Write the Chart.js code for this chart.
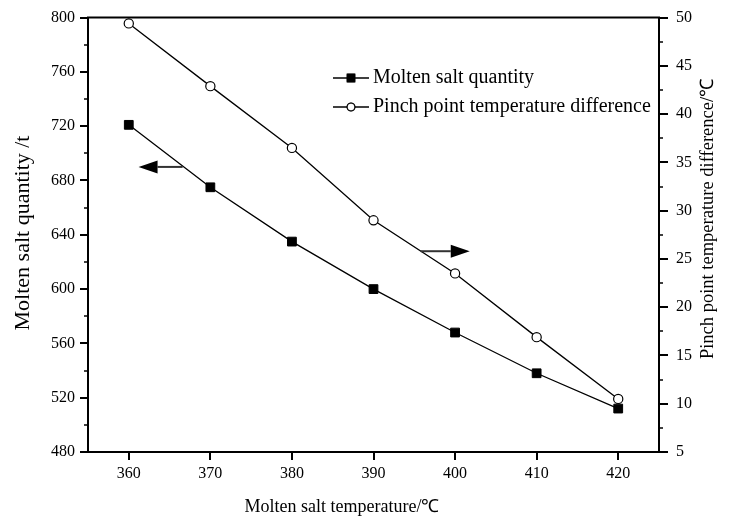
<!DOCTYPE html>
<html>
<head>
<meta charset="utf-8">
<script src="https://cdn.jsdelivr.net/npm/chart.js@4"></script>
<style>
  html, body { margin: 0; padding: 0; background: #fff; }
</style>
</head>
<body>
<canvas id="chart" width="731" height="524"></canvas>
<script>
// 데이터
const temperature = [360, 370, 380, 390, 400, 410, 420];
const saltQuantity = [721, 675, 635, 600, 568, 538, 512];
const pinchDiff = [49.4, 42.9, 36.5, 29.0, 23.5, 16.9, 10.5];

const xTicks = [360, 370, 380, 390, 400, 410, 420];
const leftTicks = [480, 520, 560, 600, 640, 680, 720, 760, 800];
const rightTicks = [5, 10, 15, 20, 25, 30, 35, 40, 45, 50];

const seriesNames = ['Molten salt quantity', 'Pinch point temperature difference'];
const xTitle = 'Molten salt temperature/\u2103';
const leftTitle = 'Molten salt quantity /t';
const rightTitle = 'Pinch point temperature difference/\u2103';

// 화살표 (축 방향 표시) - 데이터 좌표
const arrowLeft = { from: 366.6, to: 361.2, y: 690 };
const arrowRight = { from: 395.8, to: 401.8, y: 25.8 };

const FONT = "'Liberation Serif', 'Times New Roman', serif";

// 보조 눈금, 축 제목, 범례, 화살표 그리기
const decorPlugin = {
    id: 'decor',
    afterDraw(chart) {
        const ctx = chart.ctx;
        const area = chart.chartArea;
        const sx = chart.scales.x;
        const yl = chart.scales.yL;
        const yr = chart.scales.yR;

        ctx.save();
        ctx.strokeStyle = '#000';
        ctx.lineWidth = 2;

        // 위쪽 테두리
        ctx.beginPath();
        ctx.moveTo(area.left - 1, area.top);
        ctx.lineTo(area.right + 1, area.top);
        ctx.stroke();

        // 보조 눈금
        ctx.lineWidth = 1.5;
        for (let i = 0; i < leftTicks.length - 1; i++) {
            const y = Math.round(yl.getPixelForValue((leftTicks[i] + leftTicks[i + 1]) / 2));
            ctx.beginPath();
            ctx.moveTo(area.left - 4, y);
            ctx.lineTo(area.left, y);
            ctx.stroke();
        }
        for (let i = 0; i < rightTicks.length - 1; i++) {
            const y = Math.round(yr.getPixelForValue((rightTicks[i] + rightTicks[i + 1]) / 2));
            ctx.beginPath();
            ctx.moveTo(area.right, y);
            ctx.lineTo(area.right + 4, y);
            ctx.stroke();
        }

        // 축 제목
        ctx.fillStyle = '#000';
        ctx.textAlign = 'center';
        ctx.textBaseline = 'middle';
        ctx.font = '18px ' + FONT;
        ctx.fillText(xTitle, 342, 507);

        ctx.save();
        ctx.translate(23, 233);
        ctx.rotate(-Math.PI / 2);
        ctx.font = '22px ' + FONT;
        ctx.fillText(leftTitle, 0, 0);
        ctx.restore();

        ctx.save();
        ctx.translate(708, 219);
        ctx.rotate(-Math.PI / 2);
        ctx.font = '18.5px ' + FONT;
        ctx.fillText(rightTitle, 0, 0);
        ctx.restore();

        // 화살표
        function arrow(a, scaleY) {
            const x1 = sx.getPixelForValue(a.from);
            const x2 = sx.getPixelForValue(a.to);
            const y = scaleY.getPixelForValue(a.y);
            const dir = Math.sign(x2 - x1);
            const headLen = 19;
            ctx.strokeStyle = '#333';
            ctx.lineWidth = 2;
            ctx.beginPath();
            ctx.moveTo(x1, y);
            ctx.lineTo(x2 - dir * headLen, y);
            ctx.stroke();
            ctx.fillStyle = '#000';
            ctx.beginPath();
            ctx.moveTo(x2, y);
            ctx.lineTo(x2 - dir * headLen, y - 6.5);
            ctx.lineTo(x2 - dir * headLen, y + 6.5);
            ctx.closePath();
            ctx.fill();
        }
        arrow(arrowLeft, yl);
        arrow(arrowRight, yr);

        // 범례
        ctx.font = '20px ' + FONT;
        ctx.textAlign = 'left';
        const rows = [78, 107];
        chart.data.datasets.forEach((ds, i) => {
            const y = rows[i];
            ctx.strokeStyle = '#000';
            ctx.lineWidth = 1.3;
            ctx.beginPath();
            ctx.moveTo(333, y);
            ctx.lineTo(369, y);
            ctx.stroke();
            Chart.helpers.drawPoint(ctx, {
                pointStyle: ds.pointStyle,
                radius: ds.pointRadius * 0.85,
                borderWidth: 1
            }, 351, y);
            ctx.fillStyle = ds.backgroundColor;
            ctx.strokeStyle = '#000';
            ctx.lineWidth = 1;
            ctx.fill();
            ctx.stroke();
            ctx.fillStyle = '#000';
            ctx.fillText(seriesNames[i], 373, y);
        });

        ctx.restore();
    }
};

const tickFont = { family: FONT, size: 16 };
const axisGrid = { drawOnChartArea: false, drawTicks: true, tickLength: 8, color: '#000', lineWidth: 2 };
const axisBorder = { display: true, color: '#000', width: 2 };

new Chart(document.getElementById('chart').getContext('2d'), {
    type: 'line',
    data: {
        datasets: [
            {
                label: seriesNames[0],
                data: temperature.map((t, i) => ({ x: t, y: saltQuantity[i] })),
                yAxisID: 'yL',
                borderColor: '#000',
                borderWidth: 1.3,
                backgroundColor: '#000',
                pointStyle: 'rect',
                pointRadius: 6.2,
                pointBorderWidth: 1,
                pointBorderColor: '#000',
                pointBackgroundColor: '#000',
                tension: 0
            },
            {
                label: seriesNames[1],
                data: temperature.map((t, i) => ({ x: t, y: pinchDiff[i] })),
                yAxisID: 'yR',
                borderColor: '#000',
                borderWidth: 1.3,
                backgroundColor: '#fff',
                pointStyle: 'circle',
                pointRadius: 4.6,
                pointBorderWidth: 1.2,
                pointBorderColor: '#000',
                pointBackgroundColor: '#fff',
                tension: 0
            }
        ]
    },
    options: {
        responsive: false,
        animation: false,
        layout: { padding: { top: 14, bottom: 0, left: 0, right: 0 } },
        plugins: {
            legend: { display: false },
            tooltip: { enabled: false }
        },
        scales: {
            x: {
                type: 'linear',
                position: 'bottom',
                min: 355,
                max: 425,
                afterBuildTicks: s => { s.ticks = xTicks.map(v => ({ value: v })); },
                afterFit: s => { s.height = 72; },
                grid: axisGrid,
                border: axisBorder,
                ticks: { font: tickFont, color: '#000', padding: 4, maxRotation: 0, autoSkip: false }
            },
            yL: {
                type: 'linear',
                position: 'left',
                min: 480,
                max: 800,
                afterBuildTicks: s => { s.ticks = leftTicks.map(v => ({ value: v })); },
                afterFit: s => { s.width = 88; },
                grid: axisGrid,
                border: axisBorder,
                ticks: { font: tickFont, color: '#000', padding: 5, autoSkip: false }
            },
            yR: {
                type: 'linear',
                position: 'right',
                min: 5,
                max: 50,
                afterBuildTicks: s => { s.ticks = rightTicks.map(v => ({ value: v })); },
                afterFit: s => { s.width = 72; },
                grid: Object.assign({}, axisGrid, { tickLength: 9 }),
                border: axisBorder,
                ticks: { font: tickFont, color: '#000', padding: 8, autoSkip: false }
            }
        }
    },
    plugins: [decorPlugin]
});
</script>
</body>
</html>
